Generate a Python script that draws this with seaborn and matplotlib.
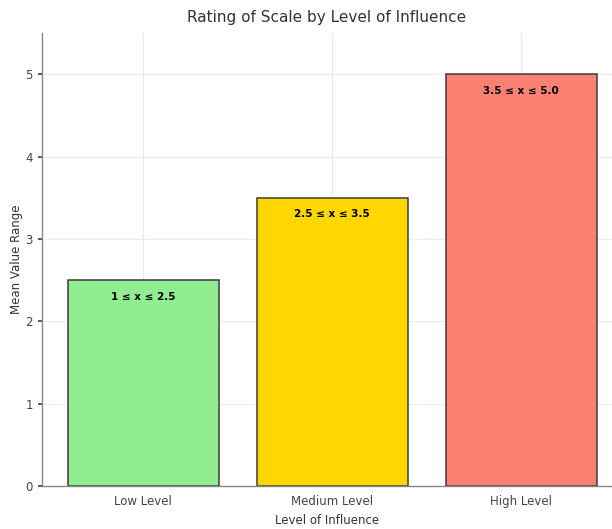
import matplotlib
matplotlib.use("Agg")
import matplotlib.pyplot as plt
import seaborn as sns
import pandas as pd

# Influence levels, their upper mean values and the range each covers
levels = ["Low Level", "Medium Level", "High Level"]
upper_values = [2.5, 3.5, 5.0]
range_labels = ["1 ≤ x ≤ 2.5", "2.5 ≤ x ≤ 3.5", "3.5 ≤ x ≤ 5.0"]
bar_colors = ["#90EE90", "#FFD700", "#FA8072"]

df = pd.DataFrame({"Level": levels, "Value": upper_values})

sns.set_theme(style="whitegrid")
plt.rcParams["font.family"] = ["DejaVu Sans"]

fig = plt.figure(figsize=(6.12, 5.29), dpi=100)
ax = fig.add_axes([42 / 612, 1 - 486 / 529, 1 - 42 / 612, (486 - 33) / 529])

sns.barplot(data=df, x="Level", y="Value", hue="Level", palette=bar_colors,
            saturation=1, legend=False, width=0.8, edgecolor="#3c3c3c",
            linewidth=1.1, ax=ax)

for i, (v, lab) in enumerate(zip(upper_values, range_labels)):
    ax.text(i, v - 0.2, lab, ha="center", va="center",
            fontsize=7.5, fontweight="bold", color="black")

ax.set_xlim(-0.535, 2.48)
ax.set_ylim(0, 5.5)
ax.set_yticks([0, 1, 2, 3, 4, 5])
ax.set_title("Rating of Scale by Level of Influence", fontsize=11, color="#333333", pad=8)
ax.set_xlabel("Level of Influence", fontsize=8.5, color="#333333", labelpad=4)
ax.set_ylabel("Mean Value Range", fontsize=8.5, color="#333333", labelpad=2)
ax.tick_params(axis="both", labelsize=8.5, colors="#444444", length=3, left=True)
ax.grid(True, color="#ebebeb", linewidth=0.8)
ax.set_axisbelow(True)

for side in ["top", "right"]:
    ax.spines[side].set_visible(False)
for side in ["left", "bottom"]:
    ax.spines[side].set_color("#888888")
    ax.spines[side].set_linewidth(1.0)

fig.savefig("out.png", dpi=100)
